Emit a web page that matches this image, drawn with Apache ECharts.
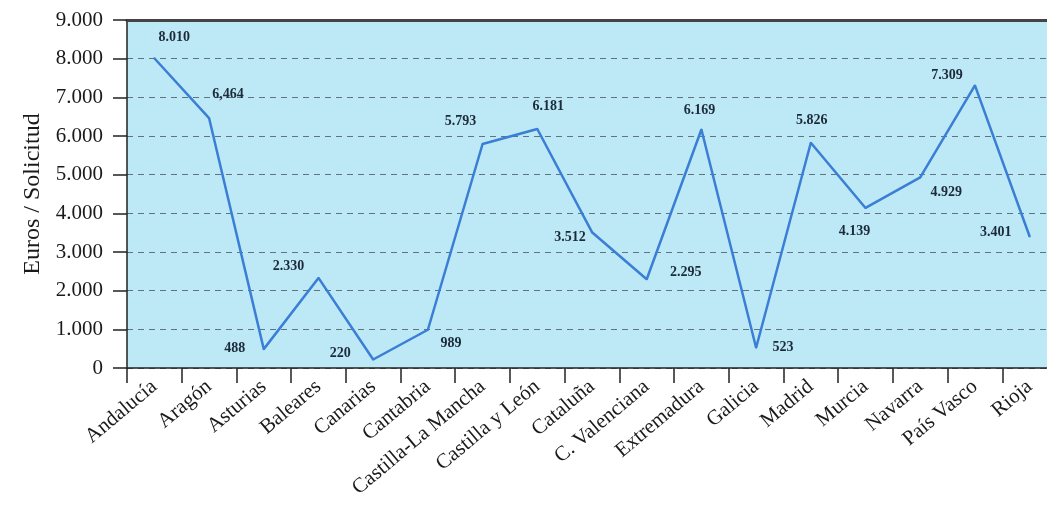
<!DOCTYPE html>
<html>
<head>
<meta charset="utf-8">
<script src="https://cdn.jsdelivr.net/npm/echarts@6/dist/echarts.min.js"></script>
<style>
html,body{margin:0;padding:0;background:#fff;overflow:hidden;}
#c{width:1047px;height:506px;}
</style>
</head>
<body>
<div id="c"></div>
<script>
const categories = ["Andalucía","Aragón","Asturias","Baleares","Canarias","Cantabria","Castilla-La Mancha","Castilla y León","Cataluña","C. Valenciana","Extremadura","Galicia","Madrid","Murcia","Navarra","País Vasco","Rioja"];
const values = [8010,6464,488,2330,220,989,5793,6181,3512,2295,6169,523,5826,4139,4929,7309,3401];
const valueLabels = ["8.010","6,464","488","2.330","220","989","5.793","6.181","3.512","2.295","6.169","523","5.826","4.139","4.929","7.309","3.401"];
const yTicks = [0,1000,2000,3000,4000,5000,6000,7000,8000,9000];

// label placement (styling only)
const labelOffsets = [[20,-21],[19,-24],[-29,-1],[-30,-12],[-33,-6],[23,14],[-22,-23],[11,-23],[-22,5],[39,-7],[-2,-19],[27,0],[1,-22],[-11,23],[26,15],[-28,-10],[-34,-4]];

function fmt(v){ if(v===0) return '0'; const s=String(v); return s.length>3? s.slice(0,s.length-3)+'.'+s.slice(-3): s; }

const serif = '"Liberation Serif", "DejaVu Serif", serif';
const chart = echarts.init(document.getElementById('c'));
chart.setOption({
  animation:false,
  grid:{left:127,width:930,top:20,bottom:138,show:true,backgroundColor:'#bde8f5',borderWidth:0,outerBoundsMode:'none',containLabel:false},
  xAxis:[{
    type:'category',data:categories,boundaryGap:true,position:'bottom',
    axisLine:{lineStyle:{color:'#222',width:1.5}},
    axisTick:{show:true,alignWithLabel:false,length:15,lineStyle:{color:'#222',width:1.5}},
    axisLabel:{rotate:40,margin:16,fontFamily:serif,fontSize:21,color:'#1a1a1a',interval:0},
    splitLine:{show:false}
  },{
    type:'category',data:categories,position:'top',
    axisLine:{show:true,lineStyle:{color:'#444',width:3}},
    axisTick:{show:false},axisLabel:{show:false},splitLine:{show:false}
  }],
  yAxis:{
    type:'value',min:0,max:9000,interval:1000,
    name:'Euros / Solicitud',nameLocation:'middle',nameGap:80,nameRotate:90,
    nameTextStyle:{fontFamily:serif,fontSize:24,color:'#1a1a1a'},
    axisLine:{show:true,lineStyle:{color:'#222',width:1.5}},
    axisTick:{show:true,length:14,lineStyle:{color:'#222',width:1.5}},
    axisLabel:{margin:24,fontFamily:serif,fontSize:21,color:'#1a1a1a',formatter:fmt},
    splitLine:{show:true,lineStyle:{color:'#5f7480',type:[6,5],width:1}}
  },
  series:[{
    type:'line',
    data:values.map((v,i)=>({value:v,label:{offset:labelOffsets[i],formatter:valueLabels[i]}})),
    symbol:'circle',symbolSize:2,
    lineStyle:{color:'#3a7fd5',width:2.5},
    itemStyle:{color:'#3a7fd5'},
    label:{show:true,position:'inside',fontFamily:serif,fontWeight:'bold',fontSize:14,color:'#1c2b3a'}
  }]
});
</script>
</body>
</html>
